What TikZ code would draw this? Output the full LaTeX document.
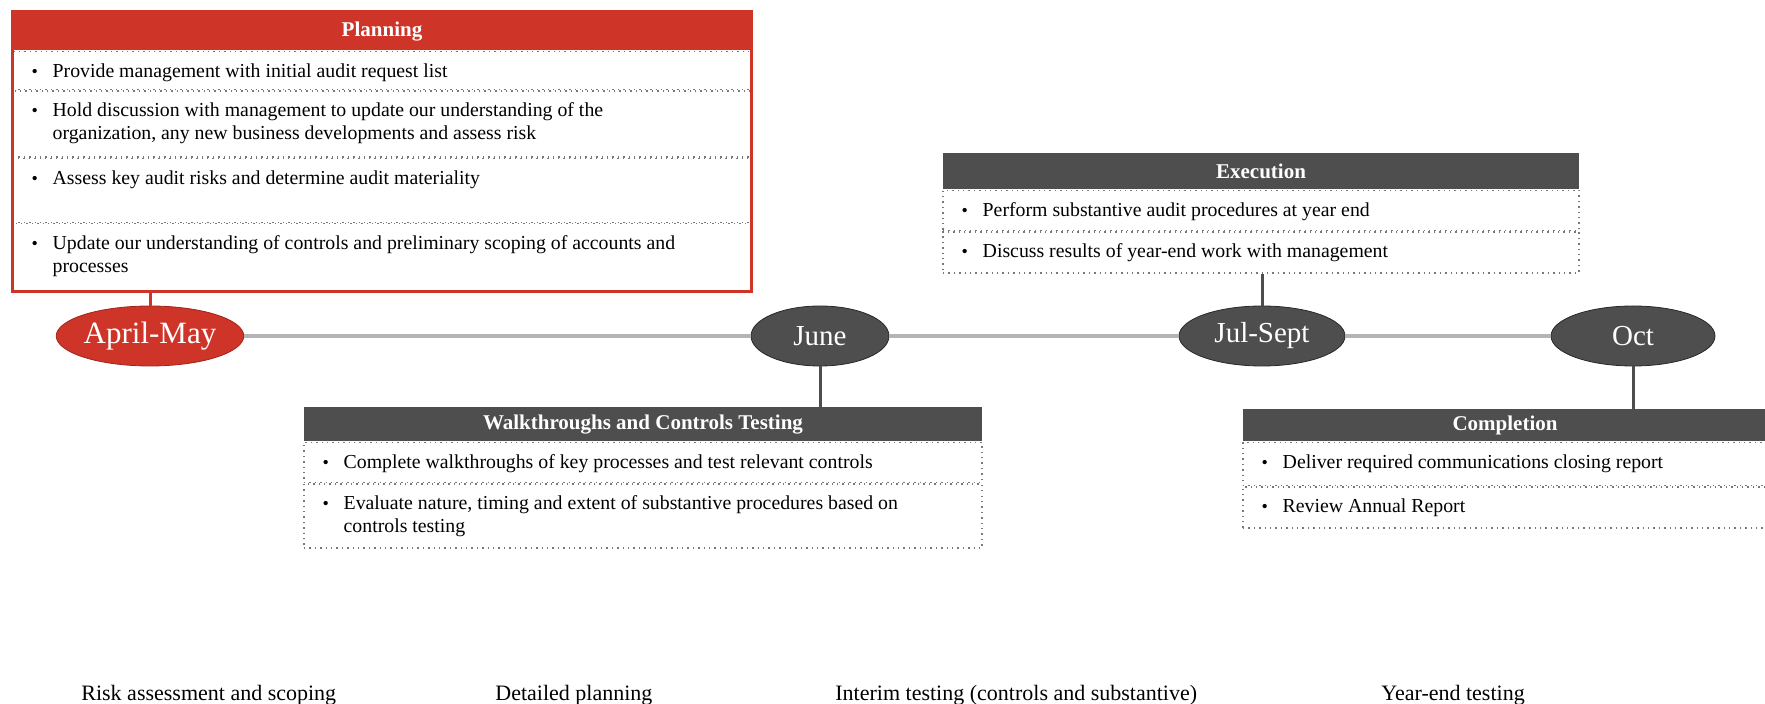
\documentclass[tikz,border=0pt]{standalone}
\usepackage{fontspec}
\setmainfont{Liberation Serif}
\usepackage{xcolor}
\usetikzlibrary{shapes.geometric}
\usetikzlibrary{positioning}

\definecolor{auditred}{RGB}{206,52,40}
\definecolor{redborder}{RGB}{160,36,28}
\definecolor{auditdark}{RGB}{78,78,78}
\definecolor{darkborder}{RGB}{40,40,40}
\definecolor{linegray}{RGB}{180,180,180}
\definecolor{dotgray}{RGB}{120,120,120}

% bullet, later lines kept under the first one
\newcommand{\bul}[1]{\makebox[10.5pt][l]{\small\textbullet}\begin{tabular}[t]{@{}l@{}}#1\end{tabular}}

\begin{document}
\begin{tikzpicture}[x=0.5pt,y=-0.5pt]
	%\draw[help lines] (0,0) grid (1765,704);
	\useasboundingbox (0,0) rectangle (1765,704);

	\tikzstyle{hdr} = [anchor=north,inner sep=0pt,text=white,font=\fontsize{10.5}{12}\selectfont\bfseries]
	\tikzstyle{row} = [inner sep=0pt,draw=dotgray,dotted,line width=0.7pt]
	\tikzstyle{entry} = [anchor=north west,inner sep=0pt,xshift=9.5pt,yshift=-5.3pt,font=\fontsize{9.9}{11.25}\selectfont]
	\tikzstyle{month} = [ellipse,draw=darkborder,fill=auditdark,text=white,inner sep=0pt,minimum height=30pt,font=\fontsize{14.5}{16}\selectfont]
	\tikzstyle{tline} = [linegray,line width=2pt]
	\tikzstyle{link} = [auditdark,line width=1.5pt]
	\tikzstyle{phase} = [anchor=base west,inner sep=0pt,font=\fontsize{11}{13}\selectfont]

	% Planning
	\node[hdr,fill=auditred,minimum width=369pt,minimum height=19pt] (plan) at (382,12) {Planning};
	\node[row,minimum width=369pt,minimum height=19pt,below=0pt of plan] (plan1) {};
	\node[row,minimum width=369pt,minimum height=33pt,below=0pt of plan1] (plan2) {};
	\node[row,minimum width=369pt,minimum height=32pt,below=0pt of plan2] (plan3) {};
	\node[row,minimum width=369pt,minimum height=33.5pt,below=0pt of plan3] (plan4) {};
	\draw[auditred,line width=1.5pt] (plan.north west) rectangle (plan4.south east);

	\node[entry] (t11) at (plan1.north west) {\bul{Provide management with initial audit request list}};
	\node[entry] (t12) at (plan2.north west) {\bul{Hold discussion with management to update our understanding of the\\
		organization, any new business developments and assess risk}};
	\node[entry] (t13) at (plan3.north west) {\bul{Assess key audit risks and determine audit materiality}};
	\node[entry] (t14) at (plan4.north west) {\bul{Update our understanding of controls and preliminary scoping of accounts and\\
		processes}};

	% Walkthroughs
	\node[hdr,fill=auditdark,minimum width=339pt,minimum height=17pt] (walk) at (643,407) {Walkthroughs and Controls Testing};
	\node[row,minimum width=339pt,minimum height=20pt,below=0pt of walk] (walk1) {};
	\node[row,minimum width=339pt,minimum height=32pt,below=0pt of walk1] (walk2) {};
	\node[entry] (t21) at (walk1.north west) {\bul{Complete walkthroughs of key processes and test relevant controls}};
	\node[entry] (t22) at (walk2.north west) {\bul{Evaluate nature, timing and extent of substantive procedures based on\\
		controls testing}};

	% Execution
	\node[hdr,fill=auditdark,minimum width=318pt,minimum height=18pt] (exec) at (1261,153) {Execution};
	\node[row,minimum width=318pt,minimum height=20pt,below=0pt of exec] (exec1) {};
	\node[row,minimum width=318pt,minimum height=20.5pt,below=0pt of exec1] (exec2) {};
	\node[entry] (t31) at (exec1.north west) {\bul{Perform substantive audit procedures at year end}};
	\node[entry] (t32) at (exec2.north west) {\bul{Discuss results of year-end work with management}};

	% Completion
	\node[hdr,fill=auditdark,minimum width=262pt,minimum height=16pt] (comp) at (1505,409) {Completion};
	\node[row,minimum width=262pt,minimum height=21.5pt,below=0pt of comp] (comp1) {};
	\node[row,minimum width=262pt,minimum height=20.5pt,below=0pt of comp1] (comp2) {};
	\node[entry] (t41) at (comp1.north west) {\bul{Deliver required communications closing report}};
	\node[entry] (t42) at (comp2.north west) {\bul{Review Annual Report}};

	% timeline
	\node[month,fill=auditred,draw=redborder,minimum width=88pt,font=\fontsize{15.5}{17}\selectfont] (am) at (150,336) {April-May};
	\node[month,minimum width=69pt] (june) at (820,336) {June};
	\node[month,minimum width=83pt] (julsep) at (1262,336) {Jul-Sept};
	\node[month,minimum width=82pt] (oct) at (1633,336) {Oct};

	\draw[tline] (am) -- (june) -- (julsep) -- (oct);

	\draw[link,auditred] (am.north) -- (am.north |- plan4.south);
	\draw[link] (june.south) -- (june.south |- walk.north);
	\draw[link] (julsep.north) -- (julsep.north |- exec2.south);
	\draw[link] (oct.south) -- (oct.south |- comp.north);

	% phases
	\node[phase] (ph1) at (81,700) {Risk assessment and scoping};
	\node[phase] (ph2) at (495,700) {Detailed planning};
	\node[phase] (ph3) at (835,700) {Interim testing (controls and substantive)};
	\node[phase] (ph4) at (1381,700) {Year-end testing};

\end{tikzpicture}
\end{document}
